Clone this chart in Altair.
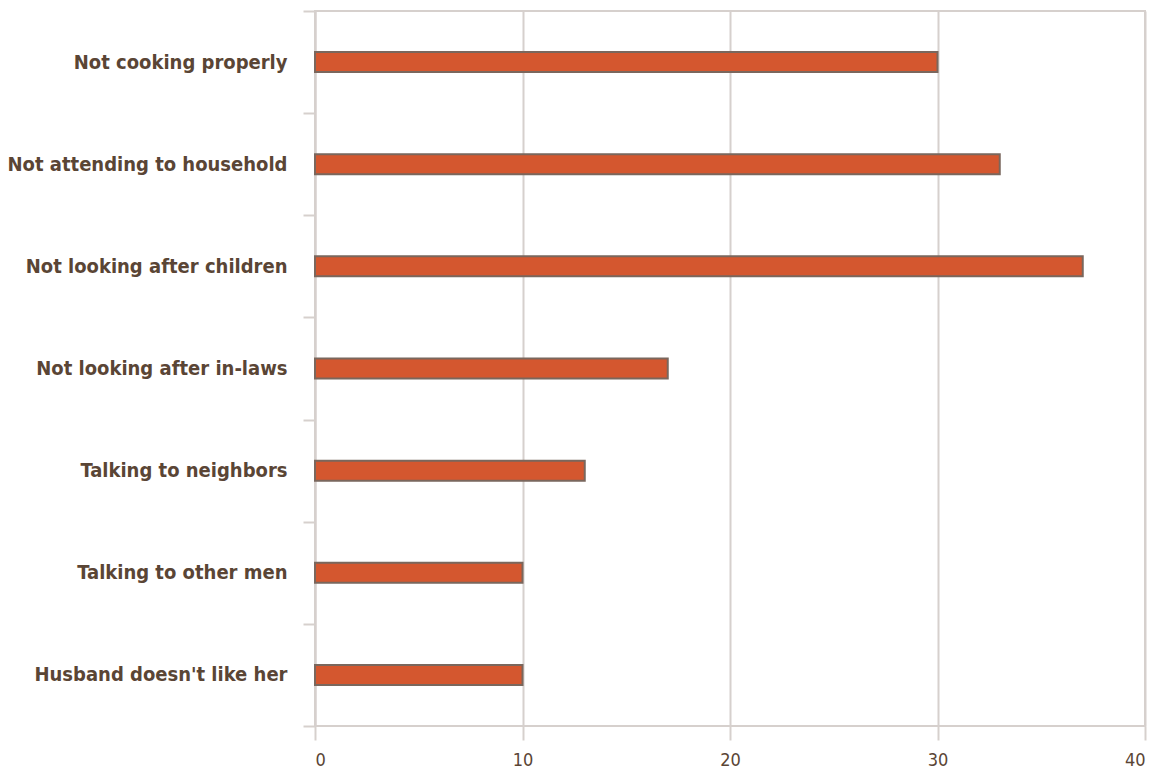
import altair as alt
import pandas as pd

categories = [
    "Not cooking properly",
    "Not attending to household",
    "Not looking after children",
    "Not looking after in-laws",
    "Talking to neighbors",
    "Talking to other men",
    "Husband doesn't like her",
]
values = [30, 33, 37, 17, 13, 10, 10]

df = pd.DataFrame({"reason": categories, "pct": values})

grid = "#d6d0cd"
text = "#5a4535"

chart = (
    alt.Chart(df)
    .mark_bar(color="#d4572f", stroke="#7a675d", strokeWidth=2, height=20)
    .encode(
        x=alt.X(
            "pct:Q",
            scale=alt.Scale(domain=[0, 40], nice=False),
            axis=alt.Axis(
                values=[0, 10, 20, 30, 40],
                title=None,
                grid=True,
                gridColor=grid,
                gridWidth=2,
                domain=False,
                tickColor=grid,
                tickWidth=2,
                tickSize=14,
                labelFont="DejaVu Sans Condensed",
                labelFontSize=18,
                labelColor=text,
                labelPadding=11,
            ),
        ),
        y=alt.Y(
            "reason:N",
            sort=categories,
            scale=alt.Scale(paddingInner=0, paddingOuter=0),
            axis=alt.Axis(
                title=None,
                tickBand="extent",
                tickSize=12,
                tickColor=grid,
                tickWidth=2,
                domainColor=grid,
                domainWidth=2,
                labelFont="DejaVu Sans Condensed",
                labelFontWeight="bold",
                labelFontSize=20,
                labelColor=text,
                labelPadding=16,
                labelLimit=400,
            ),
        ),
    )
    .properties(
        width=830,
        height=715,
        autosize=alt.AutoSizeParams(type="none"),
        padding={"left": 315, "top": 11, "right": 16, "bottom": 46},
    )
    .configure_view(stroke=grid, strokeWidth=2)
)

chart.save("out.html", embed_options={"renderer": "svg", "actions": False})
